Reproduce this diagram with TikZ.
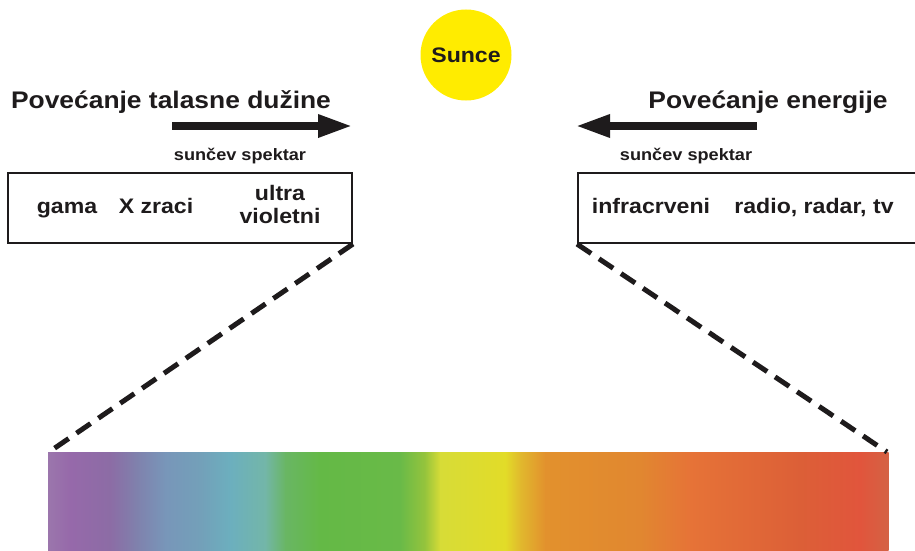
\documentclass[tikz,border=0pt]{standalone}
\usepackage{fontspec}
\setmainfont{Liberation Sans}[FakeStretch=1.1]
\usetikzlibrary{arrows.meta}
\definecolor{sunyellow}{RGB}{255,236,0}
\definecolor{ink}{RGB}{30,27,28}
\definecolor{s1}{RGB}{155,118,172}
\definecolor{s2}{RGB}{150,105,170}
\definecolor{s3}{RGB}{140,108,165}
\definecolor{s4}{RGB}{128,128,172}
\definecolor{s5}{RGB}{120,150,185}
\definecolor{s6}{RGB}{115,160,185}
\definecolor{s7}{RGB}{108,175,190}
\definecolor{s8}{RGB}{115,182,168}
\definecolor{s9}{RGB}{105,182,100}
\definecolor{s10}{RGB}{100,185,70}
\definecolor{s11}{RGB}{105,186,72}
\definecolor{s12}{RGB}{150,196,60}
\definecolor{s13}{RGB}{215,220,55}
\definecolor{s14}{RGB}{226,220,40}
\definecolor{s15}{RGB}{225,185,45}
\definecolor{s16}{RGB}{226,145,45}
\definecolor{s17}{RGB}{225,135,48}
\definecolor{s18}{RGB}{230,115,55}
\definecolor{s19}{RGB}{220,95,55}
\definecolor{s20}{RGB}{225,85,60}
\definecolor{s21}{RGB}{212,98,68}
\begin{document}
\begin{tikzpicture}[x=1pt,y=-1pt,
  every node/.style={inner sep=0pt, text=ink},
  title/.style={font=\fontsize{24}{28}\selectfont\bfseries, anchor=base},
  sub/.style={font=\fontsize{16.5}{20}\selectfont\bfseries, anchor=base},
  lbl/.style={font=\fontsize{21}{23}\selectfont\bfseries, anchor=base, align=center},
  band/.style={draw=ink, line width=2pt, fill=none},
  bigarrow/.style={draw=ink, line width=8.5pt, -{Triangle[length=35pt,width=21pt]}},
  zoomline/.style={draw=ink, line width=5pt, dash pattern=on 17pt off 9.5pt}]
\clip (0,0) rectangle (915,551);
\fill[white] (0,0) rectangle (915,551);

% sun
\node[circle, fill=sunyellow, minimum size=91pt, font=\fontsize{21}{24}\selectfont\bfseries] (sun) at (466,55) {Sunce};

% titles
\node[title] (tL) at (171,108) {Povećanje talasne dužine};
\node[title] (tR) at (768,108) {Povećanje energije};

% big arrows
\coordinate (aLs) at (172,126);
\coordinate (aLe) at (353,126);
\coordinate (aRs) at (757,126);
\coordinate (aRe) at (575,126);
\draw[bigarrow] (aLs) -- (aLe);
\draw[bigarrow] (aRs) -- (aRe);

% subtitles
\node[sub] (sL) at (240,160) {sunčev spektar};
\node[sub] (sR) at (686,160) {sunčev spektar};

% boxes
\node[band, minimum width=344pt, minimum height=70pt] (boxL) at (180,208) {};
\node[band, minimum width=347pt, minimum height=70pt] (boxR) at (751.5,208) {};

\node[lbl] (gama) at (67,213.5) {gama};
\node[lbl] (xz) at (156,213.5) {X zraci};
\node[lbl] (uv) at (280,223) {ultra\\violetni};
\node[lbl] (ir) at (651,213.5) {infracrveni};
\node[lbl] (rad) at (814,213.5) {radio, radar, tv};

% spectrum
\foreach \xa/\xb/\ca/\cb in {48/70/s1/s2, 70/110/s2/s3, 110/135/s3/s4, 135/165/s4/s5,
  165/200/s5/s6, 200/230/s6/s7, 230/265/s7/s8, 265/285/s8/s9, 285/320/s9/s10,
  320/400/s10/s11, 400/425/s11/s12, 425/440/s12/s13, 440/505/s13/s14,
  505/520/s14/s15, 520/545/s15/s16, 545/640/s16/s17, 640/690/s17/s18,
  690/800/s18/s19, 800/860/s19/s20, 860/888/s20/s21}
  \shade[left color=\ca, right color=\cb] (\xa,452) rectangle (\xb+0.6,551);
\coordinate (specNW) at (49,452);
\coordinate (specNE) at (887,452);

% dashed zoom lines
\draw[zoomline] (boxL.south east) -- (specNW);
\draw[zoomline] (boxR.south west) -- (specNE);
\end{tikzpicture}
\end{document}
